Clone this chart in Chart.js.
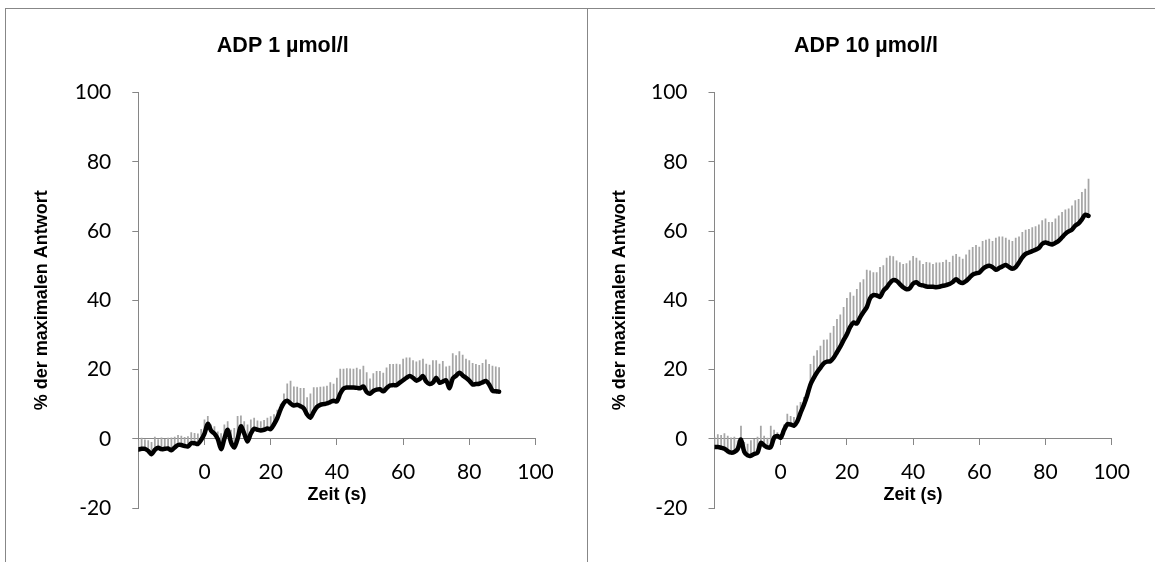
<!DOCTYPE html>
<html>
<head>
<meta charset="utf-8">
<script src="https://cdn.jsdelivr.net/npm/chart.js@4.4.1/dist/chart.umd.min.js"></script>
<style>
html, body { margin: 0; padding: 0; background: #ffffff; }
body { width: 1155px; height: 562px; position: relative; overflow: hidden; }
.frame { position: absolute; background: #878787; }
.panel { position: absolute; top: 0; }
canvas { display: block; }
</style>
</head>
<body>
<div class="frame" style="left:5px;top:8px;width:1150px;height:1px"></div>
<div class="frame" style="left:5px;top:8px;width:1px;height:554px"></div>
<div class="frame" style="left:587px;top:8px;width:1px;height:554px"></div>
<div class="panel" style="left:30px"><canvas id="c1" width="558" height="562"></canvas></div>
<div class="panel" style="left:595px"><canvas id="c2" width="560" height="562"></canvas></div>
<script>
// ---------- data ----------
const titles = ['ADP 1 µmol/l', 'ADP 10 µmol/l'];
const xAxisTitle = 'Zeit (s)';
const yAxisTitle = '% der maximalen Antwort';
const xTicks = [-20, 0, 20, 40, 60, 80, 100];
const yTicks = [-20, 0, 20, 40, 60, 80, 100];

// time (s), ADP 1 µmol/l
const time1 = [-20,-19,-18,-17,-16,-15,-14,-13,-12,-11,-10,-9,-8,-7,-6,-5,-4,-3,-2,-1,
  0,1,2,3,4,5,6,7,8,9,10,11,12,13,14,15,16,17,18,19,
  20,21,22,23,24,25,26,27,28,29,30,31,32,33,34,35,36,37,38,39,
  40,41,42,43,44,45,46,47,48,49,50,51,52,53,54,55,56,57,58,59,
  60,61,62,63,64,65,66,67,68,69,70,71,72,73,74,75,76,77,78,79,
  80,81,82,83,84,85,86,87,88,89];
// mean response (%)
const mean1 = [-3.1,-2.9,-2.9,-3.5,-4.5,-3.2,-2.6,-3.0,-2.9,-2.8,-3.3,-2.5,-1.8,-1.8,-2.1,-2.2,-1.3,-1.3,-1.5,-0.3,
  1.5,4.3,2.3,1.5,0.0,-3.0,0.0,2.6,-1.0,-2.5,0.0,3.6,1.5,-0.8,1.5,2.9,2.6,2.4,2.6,3.0,
  2.8,4.2,6.0,8.5,10.4,11.0,10.2,9.6,9.8,9.4,8.8,7.0,6.1,7.8,9.2,9.8,10.0,10.2,10.6,11.0,
  10.8,13.0,14.5,14.8,14.8,14.8,14.7,14.6,15.1,13.5,13.0,13.8,14.2,14.3,13.7,14.6,15.4,15.5,15.5,16.2,
  16.9,17.6,18.1,17.6,16.8,17.2,18.1,16.5,15.8,16.2,17.6,16.2,16.5,16.9,14.6,17.4,18.2,19.1,18.3,17.6,
  16.8,15.7,15.8,15.9,16.3,16.7,15.7,13.9,13.7,13.6];
// mean + SD (%)
const upper1 = [-0.5,0.2,-0.3,-0.5,-1.0,0.5,-0.2,0.3,0.0,0.2,0.3,0.5,1.0,0.8,0.4,0.6,1.8,1.6,1.4,2.7,
  5.5,6.5,4.0,3.5,2.0,1.5,4.0,5.0,2.5,3.0,6.5,6.6,5.0,4.0,5.5,6.0,5.2,5.0,5.3,6.0,
  6.4,7.0,8.3,10.0,13.0,15.9,16.7,15.0,14.9,14.6,14.6,11.9,13.0,14.8,14.8,14.9,15.0,15.2,16.2,15.8,
  17.5,20.1,20.1,20.3,20.2,20.1,20.4,20.0,21.0,19.1,17.3,18.8,19.5,19.5,19.0,20.5,21.5,21.5,21.6,21.4,
  23.0,23.4,23.4,22.6,22.2,22.6,23.0,21.6,21.3,22.6,22.6,21.6,22.4,20.8,21.0,24.6,24.0,25.2,24.2,23.0,
  22.6,21.8,21.5,21.2,21.8,22.8,21.5,21.0,20.8,20.6];

// time (s), ADP 10 µmol/l
const time2 = [-20,-19,-18,-17,-16,-15,-14,-13,-12,-11,-10,-9,-8,-7,-6,-5,-4,-3,-2,-1,
  0,1,2,3,4,5,6,7,8,9,10,11,12,13,14,15,16,17,18,19,
  20,21,22,23,24,25,26,27,28,29,30,31,32,33,34,35,36,37,38,39,
  40,41,42,43,44,45,46,47,48,49,50,51,52,53,54,55,56,57,58,59,
  60,61,62,63,64,65,66,67,68,69,70,71,72,73,74,75,76,77,78,79,
  80,81,82,83,84,85,86,87,88,89,90,91,92,93];
const mean2 = [-2.4,-2.4,-2.6,-2.9,-3.6,-4.0,-3.8,-3.0,-0.2,-3.8,-4.8,-4.9,-4.4,-4.0,-1.2,-1.9,-2.5,-2.4,0.3,0.8,
  0.3,2.5,4.2,4.1,3.8,5.0,7.5,9.8,12.5,15.7,17.6,19.2,20.5,21.8,22.3,22.4,23.4,25.0,26.6,28.5,
  30.2,32.3,33.6,33.3,35.1,36.6,38.0,40.6,41.5,41.4,41.0,42.7,43.7,45.0,45.8,45.6,44.7,43.8,43.2,43.5,
  44.8,45.2,44.5,44.3,44.0,43.9,43.9,43.8,43.9,44.2,44.4,44.7,45.3,46.1,45.3,45.0,45.6,46.5,47.4,47.8,
  48.0,49.0,49.7,50.0,49.6,48.8,49.3,49.8,50.2,49.6,49.1,49.6,50.9,52.4,53.4,53.8,54.2,54.6,55.1,56.3,
  56.7,56.4,56.1,56.6,57.2,58.2,59.2,59.9,60.4,61.6,62.2,63.4,64.7,64.4];
const upper2 = [0.5,1.2,1.0,1.5,0.8,0.3,0.5,-0.5,3.7,-1.0,-1.5,-0.5,0.0,0.5,3.7,0.8,0.2,3.7,2.5,1.8,
  1.0,4.0,7.1,6.5,6.2,9.5,10.5,12.0,14.0,21.5,23.9,25.5,26.8,28.5,28.6,30.5,32.5,34.5,35.8,38.0,
  40.6,42.2,41.2,43.2,45.1,46.0,48.7,48.5,48.0,48.0,49.5,50.0,52.2,52.8,52.6,51.4,50.9,50.4,50.6,51.4,
  52.7,52.2,51.4,50.4,51.0,50.8,50.4,50.8,50.8,51.0,51.6,51.0,52.8,53.3,52.5,51.9,53.1,54.5,55.3,55.9,
  55.4,57.0,57.4,57.7,57.0,58.0,58.3,58.3,58.0,57.4,57.0,58.0,58.3,59.6,60.3,60.5,61.0,61.3,61.8,63.0,
  63.5,62.5,62.5,63.5,64.4,65.4,66.1,66.4,67.3,68.8,69.2,71.2,72.1,75.0];

// ---------- drawing ----------
const AXIS_GREY = '#868686';
const TEXT_FONT = '"Liberation Sans", Arial, sans-serif';
const TICK_FONT = 'Lato, "Open Sans", sans-serif';

function makeChart(id, title, times, mean, upper, layoutCfg) {
  const lineData = times.map((t, i) => ({ x: t, y: mean[i] }));
  const barData = [];
  times.forEach((t, i) => {
    if (upper[i] !== null && upper[i] !== undefined) barData.push({ x: t, y: [mean[i], upper[i]] });
  });
  return new Chart(document.getElementById(id), {
    type: 'line',
    data: {
      datasets: [
        {
          type: 'line', data: lineData, borderColor: '#000000', borderWidth: 4.5,
          pointRadius: 0, tension: 0.3, order: 1,
          borderJoinStyle: 'round', borderCapStyle: 'round'
        },
        {
          type: 'bar', data: barData, backgroundColor: '#a6a6a6', borderWidth: 0,
          barThickness: 1.1, order: 2
        }
      ]
    },
    options: {
      responsive: false,
      animation: false,
      devicePixelRatio: 1,
      layout: { padding: { left: layoutCfg.padLeft, right: layoutCfg.padRight, top: 0, bottom: 54 } },
      plugins: {
        legend: { display: false },
        tooltip: { enabled: false },
        title: {
          display: true, text: title, color: '#000000',
          font: { family: TEXT_FONT, size: 21.5, weight: 'bold' },
          padding: { top: 33.4, bottom: 33.4 }
        }
      },
      scales: {
        x: {
          type: 'linear', position: { y: 0 }, min: -20, max: 100, offset: false,
          afterBuildTicks: s => { s.ticks = xTicks.map(v => ({ value: v })); },
          ticks: {
            color: '#000000', font: { family: TICK_FONT, size: 21 }, padding: 14.7,
            maxRotation: 0, autoSkip: false,
            callback: v => (v === -20 ? '' : String(v))
          },
          grid: { display: true, offset: false, drawOnChartArea: false, drawTicks: true, tickLength: 6, color: AXIS_GREY },
          border: { display: true, color: AXIS_GREY, width: 1 },
          title: {
            display: true, text: xAxisTitle, color: '#000000',
            font: { family: TEXT_FONT, size: 18, weight: 'bold' },
            padding: { top: -15.1, bottom: 0 }
          }
        },
        y: {
          type: 'linear', min: -20, max: 100,
          afterBuildTicks: s => { s.ticks = yTicks.map(v => ({ value: v })); },
          afterFit: s => { s.width = layoutCfg.yWidth; },
          ticks: { color: '#000000', font: { family: TICK_FONT, size: 21 }, padding: 21 },
          grid: { display: true, offset: false, drawOnChartArea: false, drawTicks: true, tickLength: 6, color: AXIS_GREY },
          border: { display: true, color: AXIS_GREY, width: 1 },
          title: {
            display: true, text: yAxisTitle, color: '#000000',
            font: { family: TEXT_FONT, size: 18, weight: 'bold' },
            padding: { top: layoutCfg.yTitlePad, bottom: 0 }
          }
        }
      }
    }
  });
}

makeChart('c1', titles[0], time1, mean1, upper1, { padLeft: 0, padRight: 52.5, yWidth: 108.3, yTitlePad: 1.2 });
makeChart('c2', titles[1], time2, mean2, upper2, { padLeft: 25.3, padRight: 43.3, yWidth: 94.2, yTitlePad: -11.1 });
</script>
</body>
</html>
